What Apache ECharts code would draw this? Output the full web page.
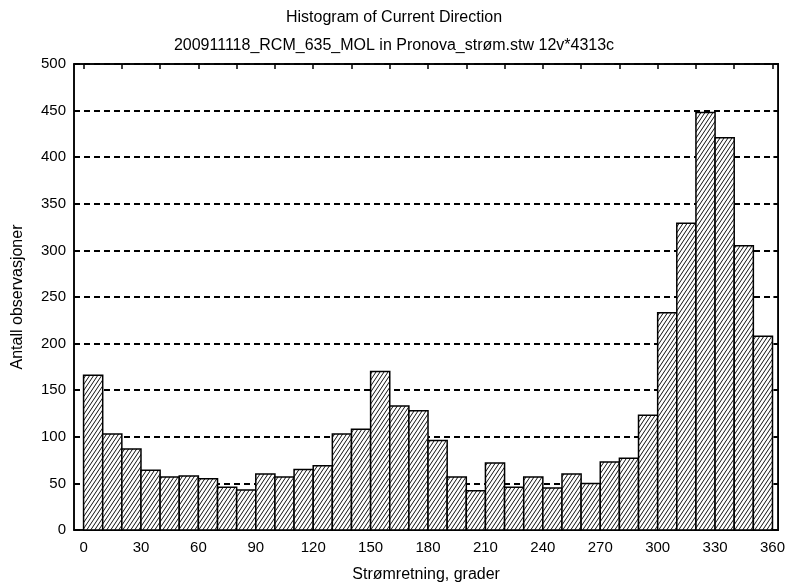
<!DOCTYPE html>
<html>
<head>
<meta charset="utf-8">
<script src="https://cdn.jsdelivr.net/npm/echarts@6/dist/echarts.min.js"></script>
<style>
html,body{margin:0;padding:0;background:#fff;}
#chart{width:788px;height:588px;}
</style>
</head>
<body>
<div id="chart"></div>
<script>
// ---- data ----
const binStarts = [0,10,20,30,40,50,60,70,80,90,100,110,120,130,140,150,160,170,180,190,200,210,220,230,240,250,260,270,280,290,300,310,320,330,340,350];
const binWidth = 10;
const counts = [166,103,87,64,57,58,55,46,43,60,57,65,69,103,108,170,133,128,96,57,42,72,46,57,45,60,50,73,77,123,233,329,448,421,305,208];
const xTickLabels = [0,30,60,90,120,150,180,210,240,270,300,330,360];
const topTicks = [0,20,40,60,80,100,120,140,160,180,200,220,240,260,280,300,320,340,360];
const titleText = 'Histogram of Current Direction';
const subtitleText = '200911118_RCM_635_MOL in Pronova_strøm.stw 12v*4313c';
const xName = 'Strømretning, grader';
const yName = 'Antall observasjoner';

// ---- hatch pattern ----
function makeHatch(){
  const w = 4, h = 6;
  const c = document.createElement('canvas');
  c.width = w; c.height = h;
  const g = c.getContext('2d');
  g.fillStyle = '#fff';
  g.fillRect(0,0,w,h);
  g.strokeStyle = '#111';
  g.lineWidth = 1;
  for (let k=-1;k<=1;k++){
    g.beginPath();
    g.moveTo(k*w, h);
    g.lineTo((k+1)*w, 0);
    g.stroke();
  }
  return c;
}
const hatch = makeHatch();

const FONT = 'Arial, "Liberation Sans", sans-serif';
const data = binStarts.map((s,i)=>[s, s+binWidth, counts[i]]);

const chart = echarts.init(document.getElementById('chart'), null, {renderer:'canvas'});
chart.setOption({
  backgroundColor:'#fff',
  animation:false,
  title:[
    {text:titleText, left:'center', top:5, textStyle:{fontFamily:FONT, fontSize:16, fontWeight:'normal', color:'#000'}},
    {text:subtitleText, left:'center', top:33, textStyle:{fontFamily:FONT, fontSize:16, fontWeight:'normal', color:'#000'}}
  ],
  grid:{left:74, right:8, top:64, bottom:57, show:true, borderColor:'#000', borderWidth:1.5, backgroundColor:'#fff'},
  xAxis:[
    {type:'value', min:-5, max:363, position:'bottom',
     name:xName, nameLocation:'middle', nameGap:37,
     nameTextStyle:{fontFamily:FONT, fontSize:16, color:'#000'},
     axisLine:{show:true, onZero:false, lineStyle:{color:'#000', width:1.5}},
     axisTick:{show:false},
     splitLine:{show:false},
     axisLabel:{customValues:xTickLabels, fontFamily:FONT, fontSize:15, color:'#000', margin:10}},
    {type:'value', min:-5, max:363, position:'top',
     axisLine:{show:true, onZero:false, lineStyle:{color:'#000', width:1.5}},
     axisTick:{show:true, inside:true, length:5, customValues:topTicks, lineStyle:{color:'#000', width:1.5}},
     axisLabel:{show:false, customValues:topTicks},
     splitLine:{show:false}}
  ],
  yAxis:[
    {type:'value', min:0, max:500, interval:50, position:'left',
     name:yName, nameLocation:'middle', nameGap:48,
     nameTextStyle:{fontFamily:FONT, fontSize:16, color:'#000'},
     axisLine:{show:true, onZero:false, lineStyle:{color:'#000', width:1.5}},
     axisTick:{show:true, inside:true, length:5, lineStyle:{color:'#000', width:1.5}},
     axisLabel:{fontFamily:FONT, fontSize:15, color:'#000', margin:8},
     splitLine:{show:true, lineStyle:{color:'#000', width:1.8, type:[6,4]}}},
    {type:'value', min:0, max:500, interval:50, position:'right',
     axisLine:{show:true, onZero:false, lineStyle:{color:'#000', width:1.5}},
     axisTick:{show:true, inside:true, length:5, lineStyle:{color:'#000', width:1.5}},
     axisLabel:{show:false},
     splitLine:{show:false}}
  ],
  series:[{
    type:'custom',
    xAxisIndex:0, yAxisIndex:0,
    data:data,
    encode:{x:[0,1], y:2},
    renderItem:function(params, api){
      const p0 = api.coord([api.value(0), api.value(2)]);
      const p1 = api.coord([api.value(1), 0]);
      return {
        type:'rect',
        shape:{x:p0[0], y:p0[1], width:p1[0]-p0[0], height:p1[1]-p0[1]},
        style:{fill:{image:hatch, repeat:'repeat'}, stroke:'#000', lineWidth:1.5}
      };
    }
  }]
});
</script>
</body>
</html>
